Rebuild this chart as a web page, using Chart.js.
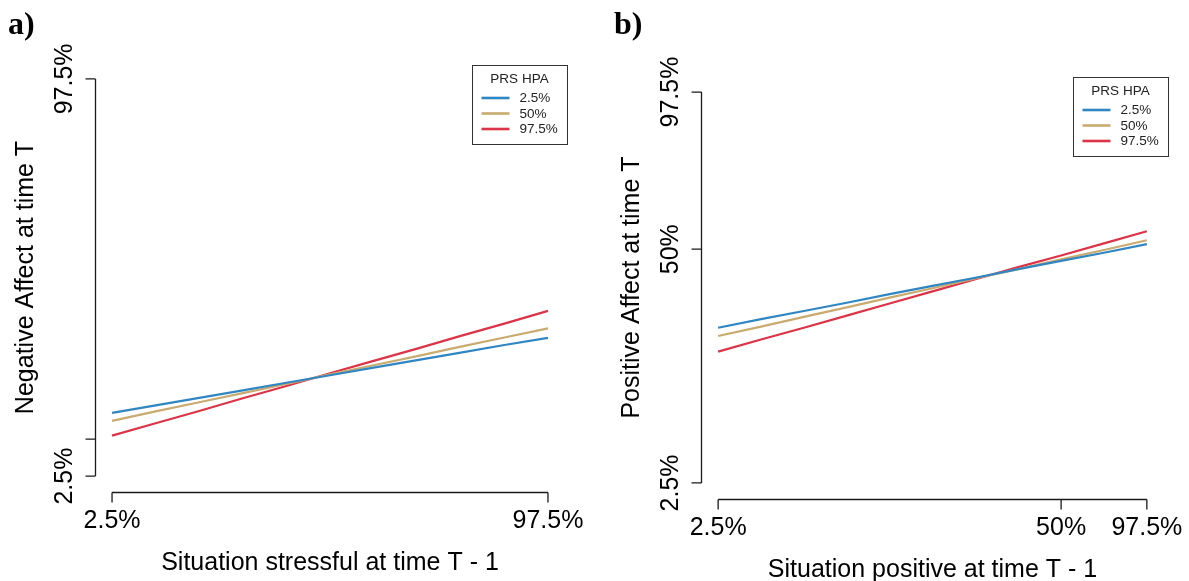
<!DOCTYPE html>
<html>
<head>
<meta charset="utf-8">
<script src="https://cdn.jsdelivr.net/npm/chart.js@4.4.1/dist/chart.umd.min.js"></script>
<style>
  html, body { margin: 0; padding: 0; background: #fff; }
  #wrap { position: relative; width: 1189px; height: 581px; }
  canvas { position: absolute; top: 0; }
  #chartA { left: 0; }
  #chartB { left: 595px; }
</style>
</head>
<body>
<div id="wrap">
  <canvas id="chartA" width="595" height="581"></canvas>
  <canvas id="chartB" width="594" height="581"></canvas>
</div>
<script>
const seriesNames = ['2.5%', '50%', '97.5%'];
const seriesColors = ['#2f86c3', '#c9ab70', '#dc3347'];

// panel a - negative affect vs stressful situation (2.5% quantile = 0, 97.5% = 100)
const stressX = [0, 10, 20, 30, 40, 50, 60, 70, 80, 90, 100];
const naLow  = [15.9, 17.8, 19.7, 21.6, 23.5, 25.4, 27.3, 29.2, 31.1, 33.0, 34.8];
const naMid  = [13.9, 16.3, 18.6, 20.9, 23.2, 25.6, 27.9, 30.2, 32.6, 34.9, 37.2];
const naHigh = [10.2, 13.3, 16.4, 19.6, 22.7, 25.9, 29.0, 32.1, 35.3, 38.4, 41.6];
const xTicksA = [0, 100];
const xTickLabelsA = ['2.5%', '97.5%'];
const yTicksA = [0, 9.3, 100];
const yTickLabelsA = ['2.5%', '', '97.5%'];   // 50% label dropped (overlaps)

// panel b - positive affect vs positive situation
const posX = [0, 10, 20, 30, 40, 50, 60, 70, 80, 90, 100];
const paLow  = [39.7, 41.9, 44.0, 46.1, 48.3, 50.4, 52.5, 54.7, 56.8, 58.9, 61.1];
const paMid  = [37.6, 40.0, 42.5, 44.9, 47.4, 49.8, 52.3, 54.7, 57.2, 59.6, 62.1];
const paHigh = [33.6, 36.7, 39.7, 42.8, 45.9, 49.0, 52.1, 55.2, 58.2, 61.3, 64.4];
const xTicksB = [0, 80, 100];
const xTickLabelsB = ['2.5%', '50%', '97.5%'];
const yTicksB = [0, 59.8, 100];
const yTickLabelsB = ['2.5%', '50%', '97.5%'];

const FONT = '"Liberation Sans", Arial, sans-serif';

// R style axes, titles, legend and panel letter
const rAxes = {
  id: 'rAxes',
  afterDraw(chart, args, o) {
    const ctx = chart.ctx;
    const xs = chart.scales.x, ys = chart.scales.y;
    const area = chart.chartArea;
    ctx.save();
    ctx.strokeStyle = '#1a1a1a';
    ctx.fillStyle = '#000';
    ctx.lineWidth = 1.3;

    // x axis
    const xp = o.xTicks.map(v => xs.getPixelForValue(v));
    const yb = Math.round(area.bottom) + 0.5;
    ctx.beginPath();
    ctx.moveTo(xp[0], yb); ctx.lineTo(xp[xp.length - 1], yb);
    xp.forEach(p => { ctx.moveTo(p, yb); ctx.lineTo(p, yb + 10); });
    ctx.stroke();

    // y axis
    const yp = o.yTicks.map(v => ys.getPixelForValue(v));
    const xl = Math.round(area.left) + 0.5;
    ctx.beginPath();
    ctx.moveTo(xl, yp[0]); ctx.lineTo(xl, yp[yp.length - 1]);
    yp.forEach(p => { ctx.moveTo(xl, p); ctx.lineTo(xl - 10, p); });
    ctx.stroke();

    ctx.font = '25px ' + FONT;
    ctx.textAlign = 'center';
    ctx.textBaseline = 'alphabetic';
    xp.forEach((p, i) => ctx.fillText(o.xLabels[i], p, area.bottom + 36));
    yp.forEach((p, i) => {
      if (!o.yLabels[i]) return;
      ctx.save();
      ctx.translate(area.left - 23, p);
      ctx.rotate(-Math.PI / 2);
      ctx.fillText(o.yLabels[i], 0, 0);
      ctx.restore();
    });

    // titles
    ctx.fillText(o.xTitle, (area.left + area.right) / 2, area.bottom + 78);
    ctx.save();
    ctx.translate(area.left - 62, (area.top + area.bottom) / 2);
    ctx.rotate(-Math.PI / 2);
    ctx.fillText(o.yTitle, 0, 0);
    ctx.restore();

    // panel letter
    ctx.textAlign = 'left';
    ctx.font = 'bold 32px "Liberation Serif", "Times New Roman", serif';
    ctx.fillText(o.letter, o.letterX, 34);

    // legend
    const L = o.legend.left, T = o.legend.top, W = 95, H = 79;
    ctx.lineWidth = 1;
    ctx.strokeStyle = '#333';
    ctx.strokeRect(L + 0.5, T + 0.5, W, H);
    ctx.font = '13.5px ' + FONT;
    ctx.fillStyle = '#222';
    ctx.textAlign = 'center';
    ctx.fillText('PRS HPA', L + W / 2, T + 17.5);
    ctx.textAlign = 'left';
    ctx.textBaseline = 'middle';
    chart.data.datasets.forEach((ds, i) => {
      const y = T + 33 + i * 15.5;
      ctx.strokeStyle = ds.borderColor;
      ctx.lineWidth = 2.6;
      ctx.beginPath();
      ctx.moveTo(L + 9.5, y); ctx.lineTo(L + 37.5, y);
      ctx.stroke();
      ctx.fillText(ds.label, L + 47.5, y + 0.5);
    });
    ctx.restore();
  }
};

function makeDatasets(xVals, series) {
  return series.map((vals, i) => ({
    label: seriesNames[i],
    data: xVals.map((x, j) => ({ x: x, y: vals[j] })),
    borderColor: seriesColors[i],
    borderWidth: 2.2,
    pointRadius: 0,
    tension: 0,
    fill: false
  }));
}

function makeChart(id, datasets, pad, axisOpts) {
  return new Chart(document.getElementById(id), {
    type: 'line',
    data: { datasets: datasets },
    options: {
      responsive: false,
      animation: false,
      devicePixelRatio: 1,
      layout: { padding: pad },
      scales: {
        x: { type: 'linear', min: -4, max: 104, display: false },
        y: { type: 'linear', min: -4, max: 104, display: false }
      },
      plugins: {
        legend: { display: false },
        tooltip: { enabled: false },
        rAxes: axisOpts
      }
    },
    plugins: [rAxes]
  });
}

makeChart('chartA',
  makeDatasets(stressX, [naLow, naMid, naHigh]),
  { left: 94.6, right: 29.6, top: 63, bottom: 89 },
  {
    xTicks: xTicksA, xLabels: xTickLabelsA,
    yTicks: yTicksA, yLabels: yTickLabelsA,
    xTitle: 'Situation stressful at time T - 1',
    yTitle: 'Negative Affect at time T',
    letter: 'a)', letterX: 8,
    legend: { left: 472, top: 65 }
  });

makeChart('chartB',
  makeDatasets(posX, [paLow, paMid, paHigh]),
  { left: 106, right: 25, top: 76.4, bottom: 82.4 },
  {
    xTicks: xTicksB, xLabels: xTickLabelsB,
    yTicks: yTicksB, yLabels: yTickLabelsB,
    xTitle: 'Situation positive at time T - 1',
    yTitle: 'Positive Affect at time T',
    letter: 'b)', letterX: 19,
    legend: { left: 478, top: 77 }
  });
</script>
</body>
</html>
